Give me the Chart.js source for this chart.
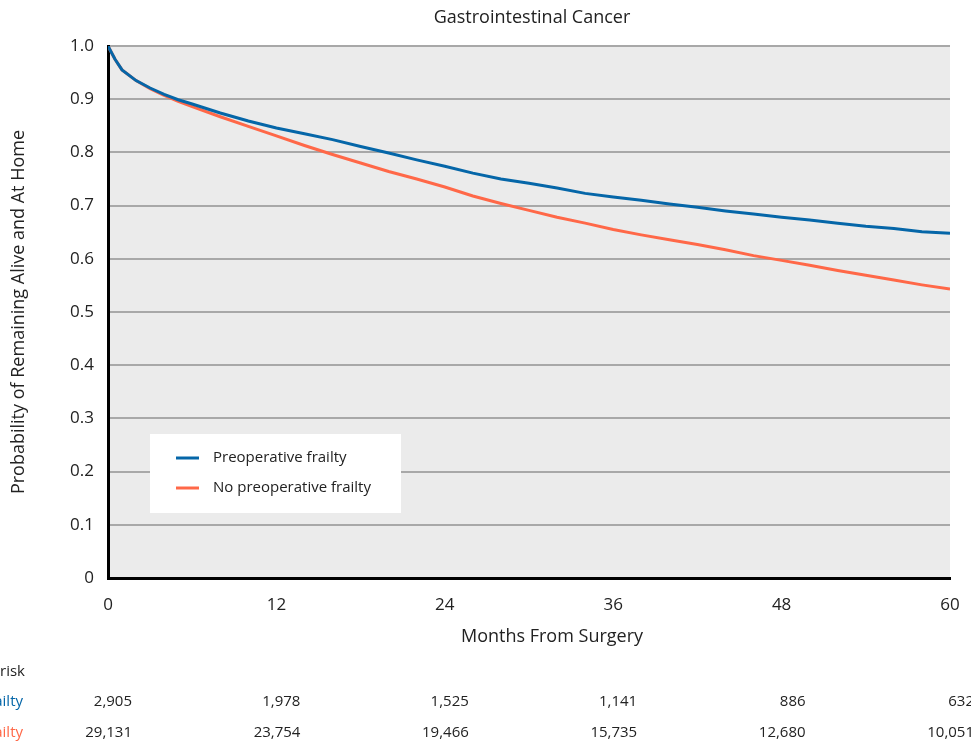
<!DOCTYPE html>
<html>
<head>
<meta charset="utf-8">
<script src="https://cdn.jsdelivr.net/npm/chart.js@4/dist/chart.umd.min.js"></script>
<style>
  html, body { margin: 0; padding: 0; background: #fff; }
  #wrap { width: 971px; height: 745px; position: relative; }
</style>
</head>
<body>
<div id="wrap"><canvas id="kmChart"></canvas></div>
<script>
const months = [0, 0.5, 1, 2, 3, 4, 5, 6, 8, 10, 12, 14, 16, 18, 20, 22, 24, 26, 28, 30,
  32, 34, 36, 38, 40, 42, 44, 46, 48, 50, 52, 54, 56, 58, 60];
const frailty = [1.0, 0.975, 0.955, 0.935, 0.921, 0.909, 0.899, 0.891, 0.874, 0.859, 0.846,
  0.835, 0.824, 0.811, 0.799, 0.786, 0.774, 0.761, 0.750, 0.742, 0.733, 0.723, 0.716,
  0.710, 0.703, 0.697, 0.690, 0.684, 0.678, 0.673, 0.667, 0.661, 0.657, 0.651, 0.648];
const noFrailty = [1.0, 0.975, 0.955, 0.935, 0.920, 0.907, 0.896, 0.886, 0.867, 0.849, 0.831,
  0.813, 0.796, 0.780, 0.764, 0.750, 0.735, 0.718, 0.704, 0.691, 0.678, 0.667, 0.655,
  0.645, 0.636, 0.627, 0.617, 0.606, 0.597, 0.588, 0.578, 0.569, 0.560, 0.551, 0.543];

const riskMonths = [0, 12, 24, 36, 48, 60];
const riskFrailty = ['2,905', '1,978', '1,525', '1,141', '886', '632'];
const riskNoFrailty = ['29,131', '23,754', '19,466', '15,735', '12,680', '10,051'];

const BLUE = 'rgb(5, 102, 168)';
const ORANGE = 'rgb(255, 104, 72)';
const FONT = '"Open Sans", "Noto Sans", sans-serif';

function pts(ys) {
  return months.map((m, i) => ({ x: m, y: ys[i] }));
}

// grey plot background, titles, legend box and at-risk table
const extras = {
  id: 'extras',
  beforeDraw(chart) {
    const a = chart.chartArea, ctx = chart.ctx;
    ctx.save();
    ctx.fillStyle = '#ebebeb';
    ctx.fillRect(a.left, a.top, a.right - a.left, a.bottom - a.top);
    ctx.restore();
  },
  afterDatasetsDraw(chart) {
    const ctx = chart.ctx, xs = chart.scales.x;
    ctx.save();
    // legend
    ctx.fillStyle = '#fff';
    ctx.fillRect(150, 434, 251, 79);
    chart.data.datasets.forEach((ds, i) => {
      const y = 458 + i * 30;
      ctx.strokeStyle = ds.borderColor;
      ctx.lineWidth = 3;
      ctx.beginPath();
      ctx.moveTo(176, y);
      ctx.lineTo(199, y);
      ctx.stroke();
      ctx.fillStyle = '#222';
      ctx.font = '15px ' + FONT;
      ctx.textBaseline = 'middle';
      ctx.textAlign = 'left';
      ctx.fillText(ds.label, 213, y);
    });
    // titles
    ctx.fillStyle = '#222';
    ctx.font = '18px ' + FONT;
    ctx.textAlign = 'center';
    ctx.textBaseline = 'middle';
    ctx.fillText('Gastrointestinal Cancer', 532, 18);
    ctx.fillText('Months From Surgery', 552, 637);
    // number at risk
    ctx.font = '15px ' + FONT;
    ctx.textAlign = 'right';
    ctx.fillText('Number at risk', 25, 672);
    ctx.fillStyle = BLUE;
    ctx.fillText('Preoperative frailty', 23, 702);
    ctx.fillStyle = ORANGE;
    ctx.fillText('No preoperative frailty', 23, 733);
    ctx.fillStyle = '#222';
    riskMonths.forEach((m, i) => {
      const x = xs.getPixelForValue(m) + 24;
      ctx.fillText(riskFrailty[i], x, 702);
      ctx.fillText(riskNoFrailty[i], x, 733);
    });
    ctx.restore();
  }
};

new Chart(document.getElementById('kmChart'), {
  type: 'line',
  data: {
    datasets: [{
      label: 'Preoperative frailty',
      data: pts(frailty),
      borderColor: BLUE,
      backgroundColor: BLUE,
      borderWidth: 3,
      pointRadius: 0,
      tension: 0
    }, {
      label: 'No preoperative frailty',
      data: pts(noFrailty),
      borderColor: ORANGE,
      backgroundColor: ORANGE,
      borderWidth: 3,
      pointRadius: 0,
      tension: 0
    }]
  },
  options: {
    responsive: true,
    maintainAspectRatio: false,
    animation: false,
    layout: { padding: { top: 46, right: 21, bottom: 95, left: 0 } },
    plugins: {
      legend: { display: false },
      tooltip: { enabled: false }
    },
    scales: {
      x: {
        type: 'linear',
        min: 0,
        max: 60,
        afterFit(scale) { scale.height = 72; },
        ticks: { stepSize: 12, padding: 9, color: '#222', font: { family: FONT, size: 17 } },
        grid: { display: false },
        border: { color: '#000', width: 3 }
      },
      y: {
        min: 0,
        max: 1,
        afterFit(scale) { scale.width = 108; },
        ticks: {
          stepSize: 0.1,
          padding: 14,
          color: '#222',
          font: { family: FONT, size: 17 },
          callback: v => v === 0 ? '0' : v.toFixed(1)
        },
        grid: { color: '#a8a8a8', lineWidth: 2, drawTicks: false },
        border: { color: '#000', width: 3 },
        title: {
          display: true,
          text: 'Probability of Remaining Alive and At Home',
          color: '#222',
          font: { family: FONT, size: 18 },
          padding: { top: 8, bottom: 0 }
        }
      }
    }
  },
  plugins: [extras]
});
</script>
</body>
</html>
